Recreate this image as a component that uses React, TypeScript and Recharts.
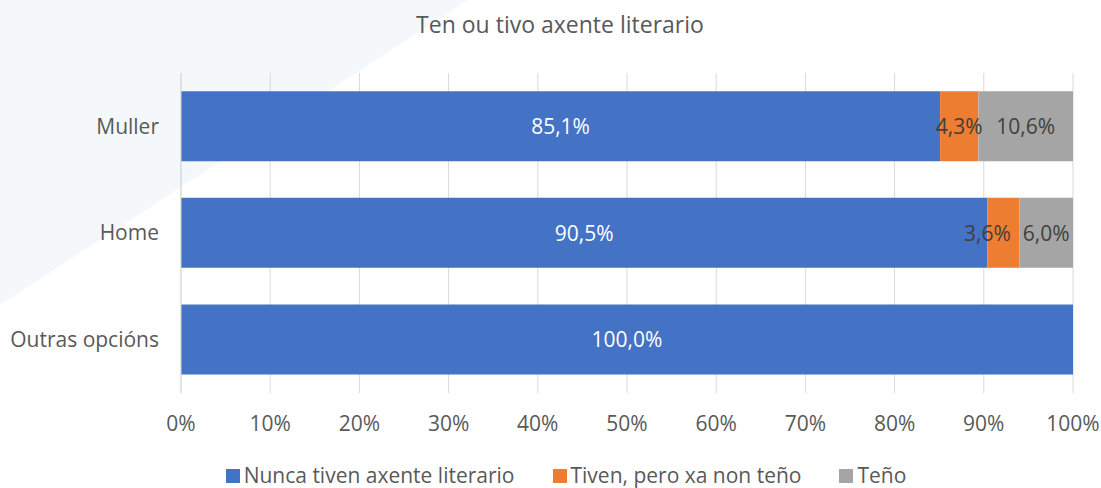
import { BarChart, Bar, XAxis, YAxis, CartesianGrid, LabelList } from 'recharts';

const categories = ['Muller', 'Home', 'Outras opcións'];
const nunca = [85.1, 90.5, 100.0];
const tiven = [4.3, 3.6, 0];
const teno = [10.6, 6.0, 0];
const xTicks = [0, 0.1, 0.2, 0.3, 0.4, 0.5, 0.6, 0.7, 0.8, 0.9, 1];

const SERIES = [
  { key: 'nunca', name: 'Nunca tiven axente literario', color: '#4472c4', label: '#ffffff' },
  { key: 'tiven', name: 'Tiven, pero xa non teño', color: '#ed7d31', label: '#404040' },
  { key: 'teno', name: 'Teño', color: '#a5a5a5', label: '#404040' },
];

const data = categories.map((name, i) => ({
  name,
  nunca: nunca[i],
  tiven: tiven[i],
  teno: teno[i],
}));

const FONT = '"Open Sans", sans-serif';

const fmtLabel = (v: any) => (v ? `${Number(v).toFixed(1).replace('.', ',')}%` : '');

// centred label; very narrow segments get nudged left like Excel does
function SegLabel(props: any, color: string) {
  const vb = props.viewBox || props;
  const x = Number(vb.x ?? props.x);
  const y = Number(vb.y ?? props.y);
  const w = Number(vb.width ?? props.width);
  const h = Number(vb.height ?? props.height);
  const text = fmtLabel(props.value);
  if (!text) return null;
  const shift = w < 36 ? -w / 2 : 0;
  return (
    <text
      x={x + w / 2 + shift}
      y={y + h / 2}
      fill={color}
      textAnchor="middle"
      dominantBaseline="central"
      style={{ fontSize: 21, fontFamily: FONT }}
    >
      {text}
    </text>
  );
}

export default function App() {
  return (
    <div style={{ position: 'absolute', left: 0, top: 0, width: 1101, height: 488, background: '#ffffff', overflow: 'hidden' }}>
      <svg width={1101} height={488} style={{ position: 'absolute', left: 0, top: 0 }}>
        <polygon points="0,0 468,0 0,305" fill="#f4f8fb" />
      </svg>
      <div style={{ position: 'absolute', left: 0, top: 8, width: 1120, textAlign: 'center', fontFamily: FONT, fontSize: 23, color: '#595959' }}>
        Ten ou tivo axente literario
      </div>
      <div style={{ position: 'absolute', left: 0, top: 0 }}>
        <BarChart
          width={1101}
          height={488}
          data={data}
          layout="vertical"
          stackOffset="expand"
          barCategoryGap="17%"
          margin={{ top: 73, right: 28, bottom: 55, left: 0 }}
        >
          <CartesianGrid horizontal={false} stroke="#d9d9d9" />
          <XAxis
            type="number"
            domain={[0, 1]}
            ticks={xTicks}
            tickFormatter={(v: number) => `${Math.round(v * 100)}%`}
            axisLine={false}
            tickLine={false}
            tickSize={0}
            tickMargin={23}
            height={40}
            tick={{ fill: '#595959', fontSize: 21, fontFamily: FONT }}
            interval={0}
          />
          <YAxis
            type="category"
            dataKey="name"
            width={181}
            axisLine={{ stroke: '#d9d9d9' }}
            tickLine={false}
            tickSize={0}
            tickMargin={22}
            tick={{ fill: '#595959', fontSize: 21, fontFamily: FONT }}
          />
          {SERIES.map(s => (
            <Bar key={s.key} dataKey={s.key} name={s.name} stackId="a" fill={s.color} isAnimationActive={false}>
              <LabelList dataKey={s.key} content={(p: any) => SegLabel(p, s.label)} />
            </Bar>
          ))}
        </BarChart>
      </div>
      <div style={{ position: 'absolute', left: 0, top: 461, width: 1132, display: 'flex', justifyContent: 'center', gap: 38, fontFamily: FONT, fontSize: 21, color: '#595959', lineHeight: '29px' }}>
        {SERIES.map(s => (
          <div key={s.key} style={{ display: 'flex', alignItems: 'center' }}>
            <span style={{ width: 14, height: 14, background: s.color, display: 'inline-block', marginRight: 4 }} />
            <span>{s.name}</span>
          </div>
        ))}
      </div>
    </div>
  );
}
